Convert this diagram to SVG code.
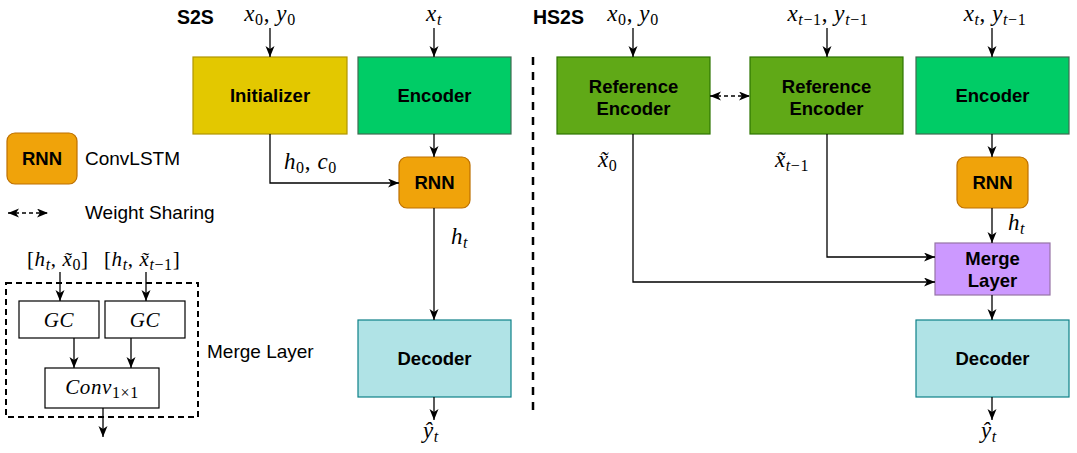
<svg xmlns="http://www.w3.org/2000/svg" width="1077" height="453" viewBox="0 0 1077 453">
<style>
.lbl{font-family:"Liberation Sans",Arial,sans-serif;font-weight:bold;font-size:18.5px;fill:#000;text-anchor:middle}
.leg{font-family:"Liberation Sans",Arial,sans-serif;font-size:19px;fill:#000}
.ttl{font-family:"Liberation Sans",Arial,sans-serif;font-weight:bold;font-size:19.5px;fill:#000}
.m{font-family:"Liberation Serif","Times New Roman",serif;font-size:23px;fill:#000;letter-spacing:0.6px}
.ml{font-family:"Liberation Serif","Times New Roman",serif;font-size:21px;fill:#000;letter-spacing:0.6px}
.i{font-style:italic}
.s{font-size:16px}
.line{fill:none;stroke:#000;stroke-width:1.3}
.dash{fill:none;stroke:#000;stroke-width:1.3;stroke-dasharray:4,3}
.ini{fill:#e3c800;stroke:#b09500;stroke-width:1.2}
.enc{fill:#00cc66;stroke:#3f6b50;stroke-width:1.2}
.ref{fill:#60a917;stroke:#2d7600;stroke-width:1.2}
.rnn{fill:#f0a30a;stroke:#bd7000;stroke-width:1.2}
.dec{fill:#b0e3e6;stroke:#0e8088;stroke-width:1.2}
.mrg{fill:#cc99ff;stroke:#9673a6;stroke-width:1.2}
.box{fill:#fff;stroke:#000;stroke-width:1.2}
</style>
<defs>
<marker id="ah" markerUnits="userSpaceOnUse" markerWidth="12" markerHeight="10" refX="11" refY="4.5" orient="auto-start-reverse" viewBox="0 0 12 10">
<path d="M0,0 L11,4.5 L0,9 L3,4.5 Z" fill="#000"/>
</marker>
</defs>
<rect width="1077" height="453" fill="#fff"/>

<!-- titles -->
<text class="ttl" x="177" y="24">S2S</text>
<text class="ttl" x="533" y="24">HS2S</text>

<!-- separator -->
<line x1="533" y1="57" x2="533" y2="413" stroke="#000" stroke-width="2.5" stroke-dasharray="8,7"/>

<!-- S2S nodes -->
<g id="initializer"><rect class="ini" x="193" y="57" width="154" height="77"/><text class="lbl" x="270" y="102">Initializer</text></g>
<g id="encoder-s2s"><rect class="enc" x="358" y="57" width="153" height="77"/><text class="lbl" x="434.5" y="102">Encoder</text></g>
<g id="rnn-s2s"><rect class="rnn" x="399" y="157" width="71" height="51" rx="8"/><text class="lbl" x="434.5" y="189">RNN</text></g>
<g id="decoder-s2s"><rect class="dec" x="358" y="320" width="153" height="77"/><text class="lbl" x="434.5" y="365">Decoder</text></g>

<!-- HS2S nodes -->
<g id="refenc-0"><rect class="ref" x="557" y="57" width="153" height="77"/><text class="lbl" x="633.5" y="92.5">Reference</text><text class="lbl" x="633.5" y="115">Encoder</text></g>
<g id="refenc-t1"><rect class="ref" x="750" y="57" width="153" height="77"/><text class="lbl" x="826.5" y="92.5">Reference</text><text class="lbl" x="826.5" y="115">Encoder</text></g>
<g id="encoder-hs2s"><rect class="enc" x="916" y="57" width="153" height="77"/><text class="lbl" x="992.5" y="102">Encoder</text></g>
<g id="rnn-hs2s"><rect class="rnn" x="957" y="157" width="71" height="51" rx="8"/><text class="lbl" x="992.5" y="189">RNN</text></g>
<g id="merge"><rect class="mrg" x="935" y="243" width="115" height="52"/><text class="lbl" x="992.5" y="265">Merge</text><text class="lbl" x="992.5" y="287">Layer</text></g>
<g id="decoder-hs2s"><rect class="dec" x="916" y="320" width="153" height="77"/><text class="lbl" x="992.5" y="365">Decoder</text></g>

<!-- Legend -->
<g id="legend-rnn"><rect class="rnn" x="7" y="133" width="70" height="51" rx="8"/><text class="lbl" x="42" y="165">RNN</text></g>
<text class="leg" x="85" y="165">ConvLSTM</text>
<text class="leg" x="85" y="219">Weight Sharing</text>
<g id="legend-merge">
<rect x="6" y="283" width="192" height="134" fill="none" stroke="#000" stroke-width="2" stroke-dasharray="6,4"/>
<g id="gc1"><rect class="box" x="19" y="301" width="80" height="37"/><text class="ml i" x="59" y="327" text-anchor="middle">GC</text></g>
<g id="gc2"><rect class="box" x="105" y="301" width="80" height="37"/><text class="ml i" x="145" y="327" text-anchor="middle">GC</text></g>
<g id="conv"><rect class="box" x="45" y="368" width="114" height="40"/><text class="ml" x="102" y="394" text-anchor="middle"><tspan class="i">Conv</tspan><tspan class="s" dy="4">1×1</tspan></text></g>
</g>
<text class="leg" x="207" y="358">Merge Layer</text>

<!-- labels (math) -->
<text class="m" x="270" y="21" text-anchor="middle"><tspan class="i">x</tspan><tspan class="s" dy="4">0</tspan><tspan dy="-4">, </tspan><tspan class="i">y</tspan><tspan class="s" dy="4">0</tspan></text>
<text class="m" x="434" y="21" text-anchor="middle"><tspan class="i">x</tspan><tspan class="s i" dy="4">t</tspan></text>
<text class="m" x="633" y="21" text-anchor="middle"><tspan class="i">x</tspan><tspan class="s" dy="4">0</tspan><tspan dy="-4">, </tspan><tspan class="i">y</tspan><tspan class="s" dy="4">0</tspan></text>
<text class="m" x="828" y="21" text-anchor="middle"><tspan class="i">x</tspan><tspan class="s i" dy="4">t</tspan><tspan class="s">−1</tspan><tspan dy="-4">, </tspan><tspan class="i">y</tspan><tspan class="s i" dy="4">t</tspan><tspan class="s">−1</tspan></text>
<text class="m" x="995" y="21" text-anchor="middle"><tspan class="i">x</tspan><tspan class="s i" dy="4">t</tspan><tspan dy="-4">, </tspan><tspan class="i">y</tspan><tspan class="s i" dy="4">t</tspan><tspan class="s">−1</tspan></text>
<text class="m" x="284" y="169"><tspan class="i">h</tspan><tspan class="s" dy="4">0</tspan><tspan dy="-4">, </tspan><tspan class="i">c</tspan><tspan class="s" dy="4">0</tspan></text>
<text class="m" x="451" y="244"><tspan class="i">h</tspan><tspan class="s i" dy="4">t</tspan></text>
<text class="m" x="1008" y="230"><tspan class="i">h</tspan><tspan class="s i" dy="4">t</tspan></text>
<text class="m" x="423" y="438"><tspan class="i">ŷ</tspan><tspan class="s i" dy="4">t</tspan></text>
<text class="m" x="981" y="438"><tspan class="i">ŷ</tspan><tspan class="s i" dy="4">t</tspan></text>
<text class="m" x="598" y="167"><tspan class="i">x̃</tspan><tspan class="s" dy="4">0</tspan></text>
<text class="m" x="775" y="167"><tspan class="i">x̃</tspan><tspan class="s i" dy="4">t</tspan><tspan class="s">−1</tspan></text>
<text class="ml" x="27" y="266">[<tspan class="i">h</tspan><tspan class="s i" dy="4">t</tspan><tspan dy="-4">, </tspan><tspan class="i">x̃</tspan><tspan class="s" dy="4">0</tspan><tspan dy="-4">]</tspan></text>
<text class="ml" x="104" y="266">[<tspan class="i">h</tspan><tspan class="s i" dy="4">t</tspan><tspan dy="-4">, </tspan><tspan class="i">x̃</tspan><tspan class="s i" dy="4">t</tspan><tspan class="s">−1</tspan><tspan dy="-4">]</tspan></text>

<!-- connectors -->
<g id="connectors">
<line class="line" x1="270" y1="28" x2="270" y2="57" marker-end="url(#ah)"/>
<line class="line" x1="434" y1="28" x2="434" y2="57" marker-end="url(#ah)"/>
<line class="line" x1="434" y1="134" x2="434" y2="157" marker-end="url(#ah)"/>
<path class="line" d="M270,134 V183 H399" marker-end="url(#ah)"/>
<line class="line" x1="434" y1="208" x2="434" y2="320" marker-end="url(#ah)"/>
<line class="line" x1="434" y1="397" x2="434" y2="420" marker-end="url(#ah)"/>
<line class="line" x1="633" y1="28" x2="633" y2="57" marker-end="url(#ah)"/>
<line class="line" x1="827" y1="28" x2="827" y2="57" marker-end="url(#ah)"/>
<line class="line" x1="992" y1="28" x2="992" y2="57" marker-end="url(#ah)"/>
<line class="dash" x1="710" y1="96" x2="750" y2="96" marker-start="url(#ah)" marker-end="url(#ah)"/>
<line class="line" x1="992" y1="134" x2="992" y2="157" marker-end="url(#ah)"/>
<line class="line" x1="992" y1="208" x2="992" y2="243" marker-end="url(#ah)"/>
<path class="line" d="M827,134 V257 H935" stroke="#333" marker-end="url(#ah)"/>
<path class="line" d="M633,134 V282 H935" marker-end="url(#ah)"/>
<line class="line" x1="992" y1="295" x2="992" y2="320" marker-end="url(#ah)"/>
<line class="line" x1="992" y1="397" x2="992" y2="420" marker-end="url(#ah)"/>
<line class="dash" x1="8" y1="213" x2="48" y2="213" marker-start="url(#ah)" marker-end="url(#ah)"/>
<line class="line" x1="60" y1="272" x2="60" y2="301" marker-end="url(#ah)"/>
<line class="line" x1="146" y1="272" x2="146" y2="301" marker-end="url(#ah)"/>
<line class="line" x1="74" y1="338" x2="74" y2="368" marker-end="url(#ah)"/>
<line class="line" x1="131" y1="338" x2="131" y2="368" marker-end="url(#ah)"/>
<line class="line" x1="103" y1="408" x2="103" y2="437" marker-end="url(#ah)"/>
</g>
</svg>
